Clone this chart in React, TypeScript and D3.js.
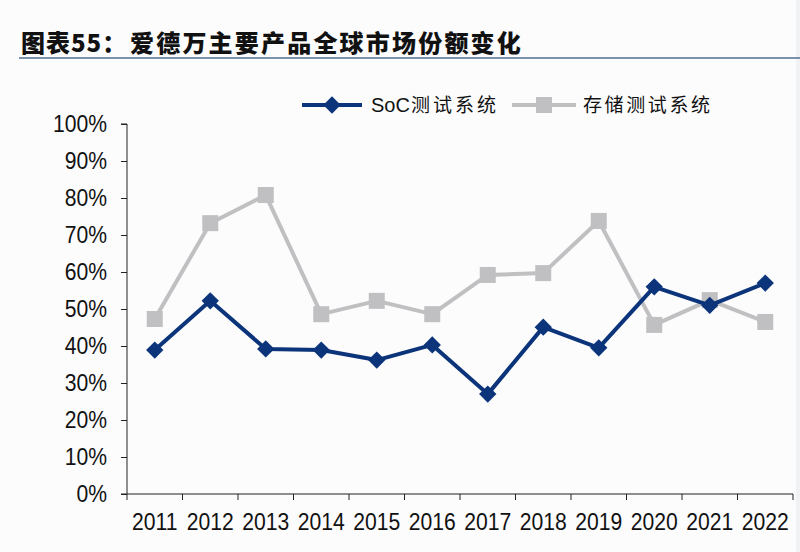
import { useEffect, useRef } from "react";
import * as d3 from "d3";

const years = ["2011", "2012", "2013", "2014", "2015", "2016", "2017", "2018", "2019", "2020", "2021", "2022"];
const socValues = [38.9, 52.2, 39.2, 38.9, 36.2, 40.3, 27.0, 45.1, 39.5, 56.0, 51.0, 57.0];
const storageValues = [47.3, 73.2, 80.8, 48.6, 52.2, 48.6, 59.2, 59.7, 73.8, 45.7, 52.4, 46.5];
const yTicks = [0, 10, 20, 30, 40, 50, 60, 70, 80, 90, 100];
const seriesNames = ["SoC", "测试系统", "存储测试系统"];

const NAVY = "#0b347a";
const GRAY = "#c0c0c2";
const SX = 0.88; // the tick labels are a bit condensed

export default function App() {
    const svgRef = useRef<SVGSVGElement>(null);

    useEffect(() => {
        const svg = d3.select(svgRef.current);
        svg.selectAll("*").remove();

        const width = 800, height = 552;
        const margin = { top: 124, right: 7, bottom: 58, left: 127 };
        const innerW = width - margin.left - margin.right;
        const innerH = height - margin.top - margin.bottom;

        svg.append("rect").attr("width", width).attr("height", height).attr("fill", "#fcfcfd");
        svg.append("rect").attr("x", 796).attr("width", 4).attr("height", height).attr("fill", "#f1f2f4");

        // title
        const cjk = "'Noto Sans CJK SC', sans-serif";
        svg.append("text")
            .attr("x", 21).attr("y", 52)
            .attr("font-family", cjk).attr("font-weight", 900).attr("font-size", 24)
            .attr("letter-spacing", 1).attr("fill", "#111")
            .text("图表55：");
        svg.append("text")
            .attr("x", 130).attr("y", 52)
            .attr("font-family", cjk).attr("font-weight", 900).attr("font-size", 24)
            .attr("letter-spacing", 2.2).attr("fill", "#111")
            .text("爱德万主要产品全球市场份额变化");
        svg.append("line")
            .attr("x1", 19).attr("x2", 800).attr("y1", 58).attr("y2", 58)
            .attr("stroke", "#4f6f8f").attr("stroke-width", 1.5);

        const g = svg.append("g").attr("transform", `translate(${margin.left},${margin.top})`);

        const x = d3.scaleBand().domain(years).range([0, innerW]);
        const y = d3.scaleLinear().domain([0, 100]).range([innerH, 0]);

        const font = "Arial, 'Liberation Sans', sans-serif";

        // y axis
        const yAxis = g.append("g").call(
            d3.axisLeft(y).tickValues(yTicks).tickSize(6).tickPadding(20).tickFormat((d) => `${d}%`)
        );
        yAxis.select(".domain").attr("stroke", "#222").attr("d", `M-6,${innerH}H0V0H-6`);
        yAxis.selectAll("line").attr("stroke", "#222");
        yAxis.selectAll("text")
            .attr("font-family", font).attr("font-size", 24).attr("fill", "#111")
            .attr("x", -20 / SX)
            .attr("transform", `scale(${SX},1)`);

        // x axis
        const xAxis = g.append("g").attr("transform", `translate(0,${innerH})`);
        xAxis.append("line").attr("x1", 0).attr("x2", innerW).attr("stroke", "#222");
        const bounds = d3.range(years.length + 1).map((i) => i * x.step());
        xAxis.selectAll("line.tick").data(bounds).enter().append("line")
            .attr("class", "tick")
            .attr("x1", (d) => d).attr("x2", (d) => d).attr("y1", 0).attr("y2", 6)
            .attr("stroke", "#222");
        xAxis.selectAll("text").data(years).enter().append("text")
            .attr("transform", (d) => `translate(${(x(d) as number) + x.bandwidth() / 2},36) scale(${SX},1)`)
            .attr("text-anchor", "middle")
            .attr("font-family", font).attr("font-size", 24).attr("fill", "#111")
            .text((d) => d);

        const cx = (i: number) => (x(years[i]) as number) + x.bandwidth() / 2;
        const line = d3.line<number>().x((_, i) => cx(i)).y((d) => y(d));

        // storage series
        g.append("path").attr("d", line(storageValues)).attr("fill", "none")
            .attr("stroke", GRAY).attr("stroke-width", 4).attr("stroke-linejoin", "round");
        g.selectAll("rect.st").data(storageValues).enter().append("rect")
            .attr("class", "st")
            .attr("x", (_, i) => cx(i) - 8).attr("y", (d) => y(d) - 8)
            .attr("width", 16).attr("height", 16).attr("fill", GRAY);

        // SoC series
        g.append("path").attr("d", line(socValues)).attr("fill", "none")
            .attr("stroke", NAVY).attr("stroke-width", 4).attr("stroke-linejoin", "round");
        const diamond = d3.symbol().type(d3.symbolSquare).size(150)();
        g.selectAll("path.soc").data(socValues).enter().append("path")
            .attr("class", "soc")
            .attr("d", diamond)
            .attr("transform", (d, i) => `translate(${cx(i)},${y(d)}) rotate(45)`)
            .attr("fill", NAVY);

        // legend
        const lg = svg.append("g").attr("transform", "translate(0,105)");
        lg.append("line").attr("x1", 302).attr("x2", 362).attr("stroke", NAVY).attr("stroke-width", 4);
        lg.append("path").attr("d", diamond).attr("transform", "translate(332,0) rotate(45)").attr("fill", NAVY);
        const t1 = lg.append("text").attr("x", 371).attr("y", 7).attr("font-size", 20).attr("fill", "#111");
        t1.append("tspan").attr("font-family", font).text(seriesNames[0]);
        t1.append("tspan").attr("font-family", cjk).attr("font-size", 19).attr("dx", 1)
            .attr("letter-spacing", 3).text(seriesNames[1]);
        lg.append("line").attr("x1", 512).attr("x2", 576).attr("stroke", GRAY).attr("stroke-width", 4);
        lg.append("rect").attr("x", 536).attr("y", -8).attr("width", 16).attr("height", 16).attr("fill", GRAY);
        lg.append("text").attr("x", 583).attr("y", 7)
            .attr("font-family", cjk).attr("font-size", 19).attr("fill", "#111")
            .attr("letter-spacing", 2.6)
            .text(seriesNames[2]);
    }, []);

    return (
        <svg ref={svgRef} width={800} height={552} style={{ position: "absolute", left: 0, top: 0, display: "block" }}></svg>
    );
}
